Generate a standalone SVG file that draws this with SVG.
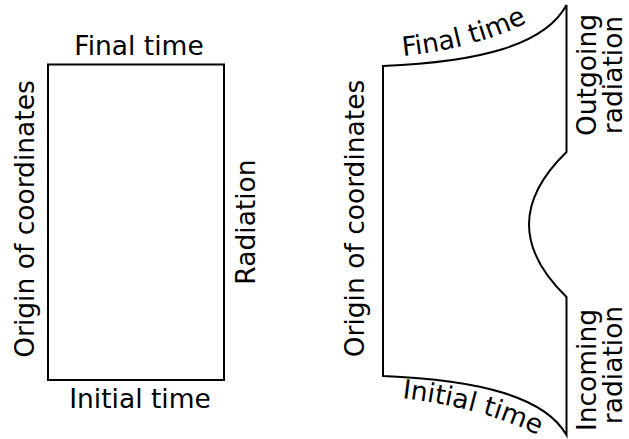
<svg xmlns="http://www.w3.org/2000/svg" width="629" height="439" viewBox="0 0 629 439">
<defs>
<style>
.t{font-family:"DejaVu Sans","Verdana",sans-serif;font-size:26.5px;fill:#000}
.m{text-anchor:middle}
.s{fill:none;stroke:#000;stroke-width:2}
</style>
<path id="fp" d="M403,56 C 450,51 500,40 548,11"/>
<path id="ip" d="M402,398 C 450,404 500,415 548,440"/>
</defs>
<rect width="629" height="439" fill="#fff"/>
<g id="left-domain">
<rect class="s" x="48" y="64.5" width="176" height="315.5"/>
<text class="t m" x="139" y="55">Final time</text>
<text class="t m" x="140" y="408">Initial time</text>
<text class="t m" transform="translate(34,219) rotate(-90)">Origin of coordinates</text>
<text class="t m" transform="translate(255,222) rotate(-90)">Radiation</text>
</g>
<g id="right-domain">
<path class="s" d="M383,66 C 480,62 545,45 566.5,5 L566.5,152 C 548,170 529,195 529,224.5 C 529,254 548,279 566.5,297 L566.5,435 C 545,397 480,380 383,376 Z"/>
<text class="t"><textPath href="#fp">Final time</textPath></text>
<text class="t"><textPath href="#ip">Initial time</textPath></text>
<text class="t m" transform="translate(364,218.5) rotate(-90)">Origin of coordinates</text>
<text class="t m" transform="translate(596,75) rotate(-90)">Outgoing</text>
<text class="t m" transform="translate(622,75) rotate(-90)">radiation</text>
<text class="t m" transform="translate(596,370) rotate(-90)">Incoming</text>
<text class="t m" transform="translate(622,365) rotate(-90)">radiation</text>
</g>
</svg>
